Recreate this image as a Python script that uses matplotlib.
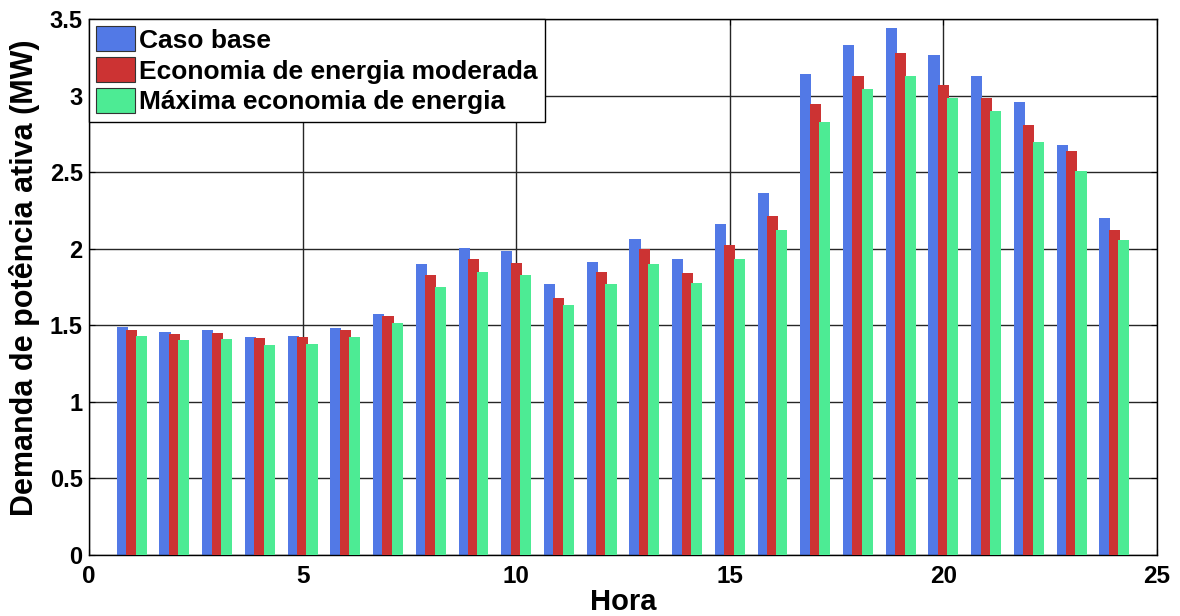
import matplotlib
matplotlib.use("Agg")
import matplotlib.pyplot as plt
import numpy as np

hours = list(range(1, 25))
caso_base = [1.487, 1.455, 1.468, 1.422, 1.429, 1.481, 1.572, 1.898, 2.003, 1.983,
             1.768, 1.911, 2.061, 1.931, 2.159, 2.361, 3.138, 3.333, 3.438, 3.268,
             3.125, 2.955, 2.675, 2.198]
moderada = [1.468, 1.442, 1.448, 1.416, 1.422, 1.468, 1.559, 1.827, 1.931, 1.905,
            1.676, 1.846, 1.996, 1.840, 2.022, 2.211, 2.948, 3.125, 3.275, 3.072,
            2.981, 2.811, 2.635, 2.120]
maxima = [1.429, 1.402, 1.409, 1.370, 1.376, 1.422, 1.513, 1.748, 1.846, 1.827,
          1.631, 1.768, 1.898, 1.774, 1.931, 2.120, 2.825, 3.040, 3.131, 2.981,
          2.896, 2.694, 2.505, 2.055]
labels = ["Caso base", "Economia de energia moderada", "Máxima economia de energia"]
colors = ["#5279E6", "#CC3333", "#4DEB94"]

plt.rcParams['font.family'] = ['Liberation Sans', 'DejaVu Sans']
plt.rcParams['font.weight'] = 'bold'

fig = plt.figure(figsize=(11.8, 6.16), dpi=100)
ax = fig.add_axes([89/1180, 61/616, (1157-89)/1180, (555-19)/616])

x = np.array(hours, dtype=float)
w = 0.26
off = 0.22
series = [caso_base, moderada, maxima]
for i, (vals, c, lab) in enumerate(zip(series, colors, labels)):
    ax.bar(x + (i - 1) * off, vals, width=w, color=c, label=lab, zorder=2 + i)

ax.set_xlim(0, 25)
ax.set_ylim(0, 3.5)
ax.set_xticks([0, 5, 10, 15, 20, 25])
ax.set_yticks([0, 0.5, 1, 1.5, 2, 2.5, 3, 3.5])
ax.set_yticklabels(["0", "0.5", "1", "1.5", "2", "2.5", "3", "3.5"])
ax.set_axisbelow(True)
ax.grid(True, color='#262626', linewidth=1.0)
ax.tick_params(direction='in', length=4, width=0.8, top=True, right=True)
ax.tick_params(axis='x', labelsize=17.5, pad=7)
ax.tick_params(axis='y', labelsize=17, pad=4.5)
for lab in ax.get_xticklabels() + ax.get_yticklabels():
    lab.set_fontweight('bold')
for s in ax.spines.values():
    s.set_linewidth(1.0)
    s.set_color('black')

ax.set_xlabel("Hora", fontsize=21, fontweight='bold', labelpad=0)
ax.set_ylabel("Demanda de potência ativa (MW)", fontsize=22, fontweight='bold')
ax.yaxis.set_label_coords(-0.0463, 0.518)

leg = ax.legend(loc='upper left', bbox_to_anchor=(0, 1), borderaxespad=0,
                prop={'weight': 'bold', 'size': 19}, fancybox=False, framealpha=1,
                edgecolor='black', handlelength=1.48, handleheight=1.06,
                handletextpad=0.15, labelspacing=0.17, borderpad=0.28)
leg.get_frame().set_linewidth(1.0)
for p in leg.get_patches():
    p.set_edgecolor('#333333')
    p.set_linewidth(0.8)
leg.set_zorder(10)

fig.savefig("out.png", dpi=100)
